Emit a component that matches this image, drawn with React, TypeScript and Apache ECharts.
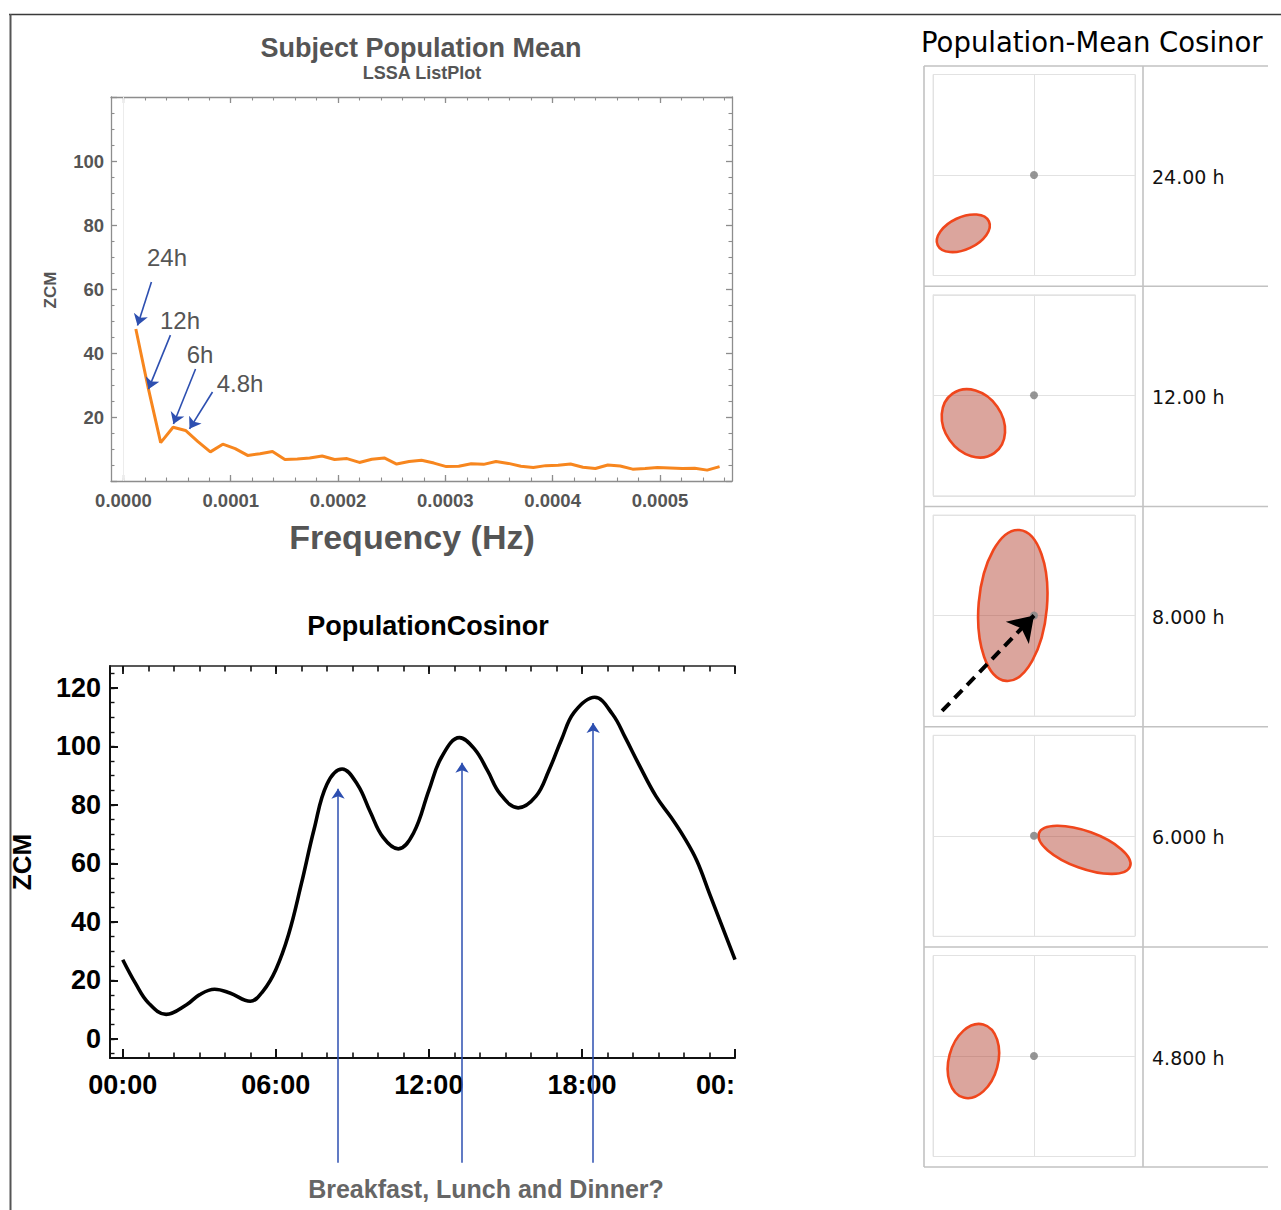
import React, { useEffect, useRef } from "react";
import * as echarts from "echarts";

// ---------- DATA ----------
// LSSA spectrum: ZCM value at harmonic k of the 24 h fundamental (k = 1..48)
const lssaZcm = [
  47.5, 29.0, 12.0, 16.8, 15.8, 12.3, 9.1, 11.5, 10.1, 8.0, 8.5, 9.2,
  6.7, 6.9, 7.2, 7.8, 6.7, 7.0, 5.8, 6.8, 7.2, 5.3, 6.1, 6.5,
  5.6, 4.5, 4.6, 5.4, 5.2, 6.1, 5.5, 4.6, 4.2, 4.8, 4.9, 5.3,
  4.3, 3.9, 5.0, 4.7, 3.7, 3.9, 4.2, 4.1, 3.9, 4.0, 3.4, 4.5,
];
const FUNDAMENTAL_HZ = 1 / 86400;
const freqTicks = [0, 0.0001, 0.0002, 0.0003, 0.0004, 0.0005];
const freqMinorTicks = [
  0, 0.00002, 0.00004, 0.00006, 0.00008, 0.0001, 0.00012, 0.00014, 0.00016, 0.00018,
  0.0002, 0.00022, 0.00024, 0.00026, 0.00028, 0.0003, 0.00032, 0.00034, 0.00036, 0.00038,
  0.0004, 0.00042, 0.00044, 0.00046, 0.00048, 0.0005, 0.00052, 0.00054, 0.00056,
];
const specYLabels = [20, 40, 60, 80, 100];

// annotation arrows on the spectrum (data coordinates)
const peakNames = ["24h", "12h", "6h", "4.8h"];
const peakArrowFrom = [[2.61e-5, 62.2], [4.38e-5, 45.6], [6.72e-5, 35.0], [8.3e-5, 27.8]];
const peakArrowTo = [[1.31e-5, 48.6], [2.33e-5, 28.7], [4.66e-5, 17.8], [6.16e-5, 16.3]];

// Population cosinor curve (hour of day, ZCM)
const cosinorHours = [
  0, 0.5, 1, 1.7, 2.5, 3, 3.6, 4.2, 5.0, 5.5, 6, 6.5, 7, 7.5, 8, 8.6, 9.2, 9.7, 10.2, 10.8,
  11.4, 12, 12.5, 13.2, 13.8, 14.3, 14.8, 15.5, 16.2, 16.7, 17.2, 17.7, 18.5, 19.2, 19.7,
  20.2, 20.9, 21.5, 22, 22.5, 23, 23.5, 24,
];
const cosinorZcm = [
  27.1, 19.0, 12.4, 8.4, 11.7, 15.1, 17.0, 15.7, 12.9, 16.4, 23.7, 35.7, 53.0, 71.7, 87.0,
  92.3, 87.0, 77.7, 69.0, 65.0, 70.4, 85.0, 96.4, 103.0, 99.0, 91.7, 83.7, 79.0, 83.0, 91.7,
  102.4, 111.7, 116.8, 111.0, 103.0, 94.4, 83.0, 75.7, 69.0, 61.0, 49.7, 38.4, 27.1,
];
const hourLabelTicks = [0, 6, 12, 18, 24];
const hourMinorTicks = [0, 1, 2, 3, 4, 5, 6, 7, 8, 9, 10, 11, 12, 13, 14, 15, 16, 17, 18, 19, 20, 21, 22, 23, 24];
const zcmTicks = [0, 20, 40, 60, 80, 100, 120];
const zcmMinorTicks = [-5, 0, 5, 10, 15, 20, 25, 30, 35, 40, 45, 50, 55, 60, 65, 70, 75, 80, 85, 90, 95, 100, 105, 110, 115, 120, 125];

// meal arrows: hour, arrow tip ZCM, arrow base ZCM
const mealHours = [8.44, 13.3, 18.44];
const mealTips = [85.5, 94.4, 108.0];
const mealBase = -42.3;

// Population-mean cosinor ellipses (normalised plane)
const periodLabels = ["24.00 h", "12.00 h", "8.000 h", "6.000 h", "4.800 h"];
const ellipseCx = [-0.70, -0.60, -0.21, 0.50, -0.60];
const ellipseCy = [-0.58, -0.28, 0.10, -0.14, -0.05];
const ellipseA = [0.28, 0.36, 0.75, 0.48, 0.375];
const ellipseB = [0.16, 0.29, 0.34, 0.185, 0.245];
const ellipseAngleDeg = [25, -55, 85, -20, 75];
const vectorFrom = [-0.91, -0.95];
const vectorTo = [0.0, 0.0];

// ---------- LAYOUT ----------
const W = 1281;
const H = 1210;
const SPEC = { left: 111, top: 97, width: 621, height: 384 };
const COS = { left: 110, top: 666, width: 625, height: 392 };
const ROW_TOPS = [66, 286.25, 506.5, 726.75, 947];
const CELL_LEFT = 933;
const CELL_W = 202;
const CELL_H = 201;
const TABLE_L = 924;
const TABLE_DIV = 1143;
const TABLE_R = 1268;
const TABLE_B = 1167;

const LS = '"Liberation Sans", Arial, sans-serif';
const DJ = '"DejaVu Sans", sans-serif';
const GRAY = "#8d8d8d";
const BLUE = "#2d4fb0";

function buildOption(): any {
  const grids: any[] = [];
  const xAxes: any[] = [];
  const yAxes: any[] = [];

  const off = { show: false };
  const hiddenY = (g: number, min: number, max: number) => ({
    gridIndex: g, type: "value", min, max, show: false,
  });

  const specXMin = -FUNDAMENTAL_HZ;
  const specXMax = 49 * FUNDAMENTAL_HZ;
  const specLabel = { color: "#555", fontFamily: LS, fontWeight: "bold", fontSize: 18.5 };

  // grids 0..3: spectrum frame
  for (let i = 0; i < 4; i++) grids.push({ ...SPEC, containLabel: false });
  xAxes.push({
    gridIndex: 0, type: "value", position: "bottom", min: specXMin, max: specXMax,
    axisLine: { show: true, onZero: false, lineStyle: { color: GRAY, width: 1.3 } },
    axisTick: { show: true, inside: true, length: 6, customValues: freqTicks, lineStyle: { color: GRAY, width: 1.3 } },
    axisLabel: { show: true, customValues: freqTicks, formatter: (v: number) => v.toFixed(4), margin: 10, ...specLabel },
    splitLine: off,
  });
  yAxes.push({
    gridIndex: 0, type: "value", position: "left", min: 0, max: 120, interval: 20,
    axisLine: { show: true, onZero: false, lineStyle: { color: GRAY, width: 1.3 } },
    axisTick: { show: true, inside: true, length: 6, lineStyle: { color: GRAY, width: 1.3 } },
    minorTick: { show: true, splitNumber: 4, length: 3.5, lineStyle: { color: GRAY, width: 1.1 } },
    axisLabel: { show: true, customValues: specYLabels, margin: 7, ...specLabel },
    splitLine: off, minorSplitLine: off,
  });
  xAxes.push({
    gridIndex: 1, type: "value", position: "bottom", min: specXMin, max: specXMax,
    axisLine: { show: false, onZero: false },
    axisTick: { show: true, inside: true, length: 3.5, customValues: freqMinorTicks, lineStyle: { color: GRAY, width: 1.1 } },
    axisLabel: off, splitLine: off,
  });
  yAxes.push({
    gridIndex: 1, type: "value", position: "right", min: 0, max: 120, interval: 20,
    axisLine: { show: true, onZero: false, lineStyle: { color: GRAY, width: 1.3 } },
    axisTick: { show: true, inside: true, length: 6, lineStyle: { color: GRAY, width: 1.3 } },
    minorTick: { show: true, splitNumber: 4, length: 3.5, lineStyle: { color: GRAY, width: 1.1 } },
    axisLabel: off, splitLine: off, minorSplitLine: off,
  });
  xAxes.push({
    gridIndex: 2, type: "value", position: "top", min: specXMin, max: specXMax,
    axisLine: { show: true, onZero: false, lineStyle: { color: GRAY, width: 1.3 } },
    axisTick: { show: true, inside: true, length: 6, customValues: freqTicks, lineStyle: { color: GRAY, width: 1.3 } },
    axisLabel: off, splitLine: off,
  });
  yAxes.push(hiddenY(2, 0, 120));
  xAxes.push({
    gridIndex: 3, type: "value", position: "top", min: specXMin, max: specXMax,
    axisLine: { show: false, onZero: false },
    axisTick: { show: true, inside: true, length: 3.5, customValues: freqMinorTicks, lineStyle: { color: GRAY, width: 1.1 } },
    axisLabel: off, splitLine: off,
  });
  yAxes.push(hiddenY(3, 0, 120));

  // grids 4..7: cosinor curve frame
  const cosXMin = -0.5;
  const cosXMax = 24;
  const cosYMin = -6.5;
  const cosYMax = 127.5;
  const cosLabel = { color: "#000", fontFamily: LS, fontWeight: "bold", fontSize: 27 };
  for (let i = 0; i < 4; i++) grids.push({ ...COS, containLabel: false });
  xAxes.push({
    gridIndex: 4, type: "value", position: "bottom", min: cosXMin, max: cosXMax,
    axisLine: { show: true, onZero: false, lineStyle: { color: "#111", width: 2 } },
    axisTick: { show: true, inside: true, length: 9, customValues: hourLabelTicks, lineStyle: { color: "#111", width: 2 } },
    axisLabel: {
      show: true, customValues: hourLabelTicks, margin: 13, alignMaxLabel: "right", ...cosLabel,
      formatter: (v: number) => (v >= 24 ? "00:" : (v < 10 ? "0" : "") + v + ":00"),
    },
    splitLine: off,
  });
  yAxes.push({
    gridIndex: 4, type: "value", position: "left", min: cosYMin, max: cosYMax,
    axisLine: { show: true, onZero: false, lineStyle: { color: "#111", width: 2 } },
    axisTick: { show: true, inside: true, length: 8, customValues: zcmTicks, lineStyle: { color: "#111", width: 2 } },
    axisLabel: { show: true, customValues: zcmTicks, margin: 9, ...cosLabel },
    splitLine: off,
  });
  xAxes.push({
    gridIndex: 5, type: "value", position: "bottom", min: cosXMin, max: cosXMax,
    axisLine: { show: false, onZero: false },
    axisTick: { show: true, inside: true, length: 5.5, customValues: hourMinorTicks, lineStyle: { color: "#111", width: 1.6 } },
    axisLabel: off, splitLine: off,
  });
  yAxes.push({
    gridIndex: 5, type: "value", position: "left", min: cosYMin, max: cosYMax,
    axisLine: { show: false, onZero: false },
    axisTick: { show: true, inside: true, length: 4.5, customValues: zcmMinorTicks, lineStyle: { color: "#111", width: 1.4 } },
    axisLabel: off, splitLine: off,
  });
  xAxes.push({
    gridIndex: 6, type: "value", position: "top", min: cosXMin, max: cosXMax,
    axisLine: { show: true, onZero: false, lineStyle: { color: "#222", width: 1.6 } },
    axisTick: { show: true, inside: true, length: 8, customValues: hourLabelTicks, lineStyle: { color: "#111", width: 1.8 } },
    axisLabel: off, splitLine: off,
  });
  yAxes.push(hiddenY(6, cosYMin, cosYMax));
  xAxes.push({
    gridIndex: 7, type: "value", position: "top", min: cosXMin, max: cosXMax,
    axisLine: { show: false, onZero: false },
    axisTick: { show: true, inside: true, length: 5.5, customValues: hourMinorTicks, lineStyle: { color: "#111", width: 1.6 } },
    axisLabel: off, splitLine: off,
  });
  yAxes.push(hiddenY(7, cosYMin, cosYMax));

  // grids 8..12: small cosinor planes
  ROW_TOPS.forEach((t, i) => {
    const g = 8 + i;
    grids.push({
      left: CELL_LEFT, top: t + 8.5, width: CELL_W, height: CELL_H,
      show: true, borderColor: "#e4e4e4", borderWidth: 1, backgroundColor: "transparent",
    });
    const ax = {
      gridIndex: g, type: "value", min: -1, max: 1, interval: 1,
      axisLine: { show: false, onZero: false }, axisTick: off, axisLabel: off,
      splitLine: { show: true, lineStyle: { color: "#e2e2e2", width: 1 } },
    };
    xAxes.push({ ...ax });
    yAxes.push({ ...ax });
  });

  const series: any[] = [];
  series.push({
    type: "line", xAxisIndex: 0, yAxisIndex: 0, z: 3,
    data: lssaZcm.map((v, i) => [(i + 1) * FUNDAMENTAL_HZ, v]),
    showSymbol: false, symbol: "none",
    lineStyle: { color: "#f7861e", width: 3 },
    markLine: {
      silent: true, symbol: "none", label: { show: false },
      lineStyle: { color: "#ececec", width: 1, type: "solid" },
      data: [{ xAxis: 0 }],
    },
  });
  series.push({
    type: "lines", coordinateSystem: "cartesian2d", xAxisIndex: 0, yAxisIndex: 0, z: 5,
    symbol: ["none", "arrow"], symbolSize: 11,
    lineStyle: { color: BLUE, width: 1.6, opacity: 1 },
    data: peakNames.map((n, i) => ({ name: n, coords: [peakArrowFrom[i], peakArrowTo[i]] })),
  });
  series.push({
    type: "line", xAxisIndex: 4, yAxisIndex: 4, z: 3,
    data: cosinorHours.map((h, i) => [h, cosinorZcm[i]]),
    smooth: 0.4, showSymbol: false, symbol: "none",
    lineStyle: { color: "#000", width: 3.6 },
  });
  series.push({
    type: "lines", coordinateSystem: "cartesian2d", xAxisIndex: 4, yAxisIndex: 4, z: 5, clip: false,
    symbol: ["none", "arrow"], symbolSize: 10,
    lineStyle: { color: BLUE, width: 1.5, opacity: 1 },
    data: mealHours.map((h, i) => ({ coords: [[h, mealBase], [h, mealTips[i]]] })),
  });
  periodLabels.forEach((p, i) => {
    const g = 8 + i;
    series.push({
      type: "custom", name: p, xAxisIndex: g, yAxisIndex: g, z: 3,
      data: [[ellipseCx[i], ellipseCy[i], ellipseA[i], ellipseB[i], ellipseAngleDeg[i]]],
      renderItem: (params: any, api: any) => {
        const c = api.coord([api.value(0), api.value(1)]);
        const s = api.size([api.value(2), api.value(3)]);
        return {
          type: "ellipse", x: c[0], y: c[1], rotation: (api.value(4) * Math.PI) / 180,
          shape: { cx: 0, cy: 0, rx: s[0], ry: s[1] },
          style: { fill: "rgba(176,58,42,0.46)", stroke: "#f0461c", lineWidth: 2.6 },
        };
      },
    });
    series.push({
      type: "scatter", xAxisIndex: g, yAxisIndex: g, z: 4, silent: true,
      data: [[0, 0]], symbolSize: 8, itemStyle: { color: "#8a8a8a", opacity: 0.9 },
    });
  });
  series.push({
    type: "lines", coordinateSystem: "cartesian2d", xAxisIndex: 10, yAxisIndex: 10, z: 6,
    symbol: ["none", "arrow"], symbolSize: [19, 24],
    lineStyle: { color: "#000", width: 4, type: [11, 7], opacity: 1 },
    data: [{ coords: [vectorFrom, vectorTo] }],
  });

  const txt = (x: number, y: number, text: string, font: string, fill: string, align = "center", rotation = 0) => ({
    type: "text", x, y, rotation, z: 10,
    style: { text, x: 0, y: 0, font, fill, textAlign: align, textVerticalAlign: "middle" },
  });
  const line = (x1: number, y1: number, x2: number, y2: number, stroke: string, w: number) => ({
    type: "line", z: 9, shape: { x1, y1, x2, y2 }, style: { stroke, lineWidth: w },
  });

  const annoPos = [[167, 257], [180, 320], [200, 354], [240, 383]];
  const graphic: any[] = [
    line(9, 14.5, W, 14.5, "#3a3a3a", 1.5),
    line(10.5, 14, 10.5, H, "#555", 2),
    txt(421, 48, "Subject Population Mean", `bold 27px ${LS}`, "#555"),
    txt(422, 73, "LSSA ListPlot", `bold 18px ${LS}`, "#555"),
    txt(50, 290, "ZCM", `bold 17px ${LS}`, "#555", "center", Math.PI / 2),
    txt(412, 537, "Frequency (Hz)", `bold 34px ${LS}`, "#555"),
    txt(428, 626, "PopulationCosinor", `bold 27px ${LS}`, "#000"),
    txt(22, 862, "ZCM", `bold 26px ${LS}`, "#000", "center", Math.PI / 2),
    txt(486, 1189, "Breakfast, Lunch and Dinner?", `bold 25px ${LS}`, "#666"),
    txt(921, 42, "Population-Mean Cosinor", `27.5px ${DJ}`, "#000", "left"),
    line(TABLE_L, ROW_TOPS[0], TABLE_L, TABLE_B, "#c2c2c2", 1.6),
    line(TABLE_DIV, ROW_TOPS[0], TABLE_DIV, TABLE_B, "#c2c2c2", 1.6),
    ...ROW_TOPS.map((t) => line(TABLE_L, t, TABLE_R, t, "#c2c2c2", 1.6)),
    line(TABLE_L, TABLE_B, TABLE_R, TABLE_B, "#c2c2c2", 1.6),
    ...peakNames.map((n, i) => txt(annoPos[i][0], annoPos[i][1], n, `24px ${LS}`, "#555")),
    ...periodLabels.map((p, i) => txt(1152, ROW_TOPS[i] + 110.5, p, `19px ${DJ}`, "#111", "left")),
  ];

  return {
    animation: false,
    backgroundColor: "#fff",
    grid: grids,
    xAxis: xAxes,
    yAxis: yAxes,
    series,
    graphic,
  };
}

export default function App() {
  const ref = useRef<HTMLDivElement>(null);
  useEffect(() => {
    document.body.style.margin = "0";
    const chart = echarts.init(ref.current!, null, { renderer: "svg" });
    chart.setOption(buildOption());
    return () => chart.dispose();
  }, []);
  return <div ref={ref} style={{ width: W, height: H }} />;
}
